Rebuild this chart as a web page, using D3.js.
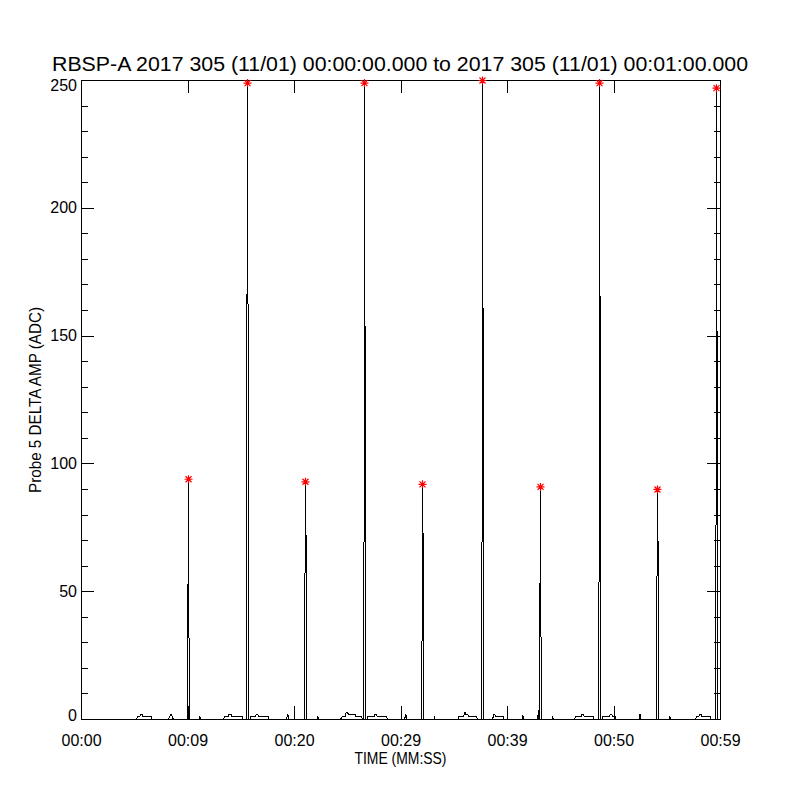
<!DOCTYPE html>
<html><head><meta charset="utf-8">
<script src="https://cdn.jsdelivr.net/npm/d3@7"></script>
<style>body{margin:0;background:#fff}</style>
</head><body>
<svg id="chart" width="800" height="800"></svg>
<script>
const titleText = "RBSP-A 2017 305 (11/01) 00:00:00.000 to 2017 305 (11/01) 00:01:00.000";
const xTitleText = "TIME (MM:SS)";
const yTitleText = "Probe 5 DELTA AMP (ADC)";
const xTickValues = [0, 10, 20, 30, 40, 50, 60];
const xTickLabels = ["00:00", "00:09", "00:20", "00:29", "00:39", "00:50", "00:59"];
const yTickValues = [0, 50, 100, 150, 200, 250];

// peak markers (seconds, ADC)
const peakTimes  = [10.05, 15.59, 21.03, 26.57, 32.02, 37.65, 43.10, 48.64, 54.08, 59.62];
const peakValues = [94, 249, 93, 249, 92, 250, 91, 249, 90, 247];

// time series [seconds, ADC]
const probeSeries = [
  [0,0],
  [5.16,0],[5.30,1.3],[5.49,1.3],[5.52,2],[5.70,2],[5.73,1.3],[6.58,1.3],[6.62,0],
  [8.17,0],[8.27,1],[8.40,2.2],[8.53,1],[8.64,0],
  [9.95,0],[10.00,52],[10.05,94],[10.10,24],[10.15,0],
  [11.06,0],[11.11,1.3],[11.16,0],
  [13.33,0],[13.45,1.3],[13.80,1.3],[13.85,2],[14.05,2],[14.10,1.3],[15.08,1.3],[15.12,0],
  [15.49,0],[15.54,164],[15.59,249],[15.64,152],[15.69,0],
  [15.87,0],[15.92,1.3],[16.35,1.3],[16.40,2],[16.55,2],[16.60,1.3],[17.55,1.3],[17.59,0],
  [19.25,0],[19.30,1],[19.36,2.2],[19.42,1],[19.47,0],
  [20.93,0],[20.98,50],[21.03,93],[21.08,72],[21.13,0],
  [22.14,0],[22.19,1.3],[22.24,0],
  [24.32,0],[24.50,1.3],[24.80,1.3],[24.85,2.9],[25.00,2.9],[25.05,1.8],[25.70,1.8],[25.75,1.3],[26.30,1.3],[26.36,0],
  [26.47,0],[26.52,37],[26.57,249],[26.62,154],[26.67,0],
  [26.83,0],[26.88,1.3],[27.50,1.3],[27.55,2],[27.70,2],[27.75,1.3],[28.66,1.3],[28.70,0],
  [30.33,0],[30.39,1],[30.45,2.2],[30.52,1],[30.58,0],
  [31.92,0],[31.97,25],[32.02,92],[32.07,72],[32.12,0],
  [33.10,0],[33.15,1.3],[33.20,0],
  [35.33,0],[35.45,1.3],[35.90,1.3],[35.95,2.9],[36.05,2.9],[36.10,1.8],[36.30,1.8],[36.35,1.3],[37.12,1.3],[37.16,0],
  [37.55,0],[37.60,37],[37.65,250],[37.70,161],[37.75,0],
  [38.62,0],[38.67,2],[38.80,2],[38.85,1.3],[39.61,1.3],[39.65,0],
  [41.38,0],[41.45,1.6],[41.53,0],
  [42.85,0],[42.88,3.8],[42.92,0],
  [43.00,0],[43.05,50],[43.10,91],[43.15,27],[43.20,0],
  [44.20,0],[44.25,1.3],[44.30,0],
  [46.29,0],[46.40,1.3],[46.95,1.3],[47.00,2],[47.15,2],[47.20,1.3],[48.06,1.3],[48.10,0],
  [48.54,0],[48.59,37],[48.64,249],[48.69,158],[48.74,0],
  [48.89,0],[48.93,1.3],[49.60,1.3],[49.65,2],[49.80,2],[49.85,1.3],[50.10,1.3],[50.14,0],
  [52.33,0],[52.39,1],[52.44,2.2],[52.50,1],[52.55,0],
  [53.98,0],[54.03,48],[54.08,90],[54.13,72],[54.18,0],
  [55.19,0],[55.24,1.3],[55.29,0],
  [57.65,0],[57.75,1.3],[57.98,1.3],[58.03,2],[58.18,2],[58.23,1.3],[59.02,1.3],[59.06,0],
  [59.52,0],[59.57,33],[59.62,247],[59.67,157],[59.72,0],
  [60,0]
];

const svg = d3.select("#chart");
const FONT = "'Liberation Sans', Arial, sans-serif";
const plotLeft = 81, plotRight = 720, plotTop = 80, plotBottom = 719;

const x = d3.scaleLinear().domain([0, 60]).range([plotLeft, plotRight]);
const y = d3.scaleLinear().domain([0, 250]).range([plotBottom, plotTop]);

svg.append("rect").attr("width", 800).attr("height", 800).attr("fill", "#fff");

// data line
svg.append("path")
  .datum(probeSeries)
  .attr("transform", "translate(0.5,0.5)")
  .attr("fill", "none")
  .attr("stroke", "#000")
  .attr("stroke-width", 1)
  .attr("shape-rendering", "crispEdges")
  .attr("d", d3.line().x(d => x(d[0])).y(d => y(d[1])));

// axes helper
function styleAxis(g) {
  g.select(".domain").remove();
  g.selectAll("line").attr("stroke", "#000").attr("shape-rendering", "crispEdges");
  g.selectAll("text").attr("font-family", FONT).attr("font-size", 16).attr("fill", "#000");
}

const majorLen = 13, minorLen = 6.5;
const yMinor = y.ticks(25).filter(v => v % 50 !== 0);

const yAxisG = svg.append("g").attr("transform", `translate(${plotLeft},0)`)
  .call(d3.axisLeft(y).tickValues(yTickValues).tickSize(-majorLen).tickPadding(4))
  .call(styleAxis);
// end labels sit just inside the frame, as in the reference
yAxisG.selectAll(".tick text")
  .attr("transform", d => d === 250 ? "translate(0,5)" : d === 0 ? "translate(0,-4)" : null);

svg.append("g").attr("transform", `translate(${plotLeft},0)`)
  .call(d3.axisLeft(y).tickValues(yMinor).tickSize(-minorLen).tickFormat(""))
  .call(styleAxis);
svg.append("g").attr("transform", `translate(${plotRight},0)`)
  .call(d3.axisRight(y).tickValues(yTickValues).tickSize(-majorLen).tickFormat(""))
  .call(styleAxis);
svg.append("g").attr("transform", `translate(${plotRight},0)`)
  .call(d3.axisRight(y).tickValues(yMinor).tickSize(-minorLen).tickFormat(""))
  .call(styleAxis);

svg.append("g").attr("transform", `translate(0,${plotBottom})`)
  .call(d3.axisBottom(x).tickValues(xTickValues).tickSize(-majorLen).tickPadding(16)
    .tickFormat((d, i) => xTickLabels[i]))
  .call(styleAxis);
svg.append("g").attr("transform", `translate(0,${plotTop})`)
  .call(d3.axisTop(x).tickValues(xTickValues).tickSize(-majorLen).tickFormat(""))
  .call(styleAxis);

// frame
svg.append("rect")
  .attr("x", plotLeft + 0.5).attr("y", plotTop + 0.5)
  .attr("width", plotRight - plotLeft).attr("height", plotBottom - plotTop)
  .attr("fill", "none").attr("stroke", "#000").attr("shape-rendering", "crispEdges");

// peak asterisks
const peaks = peakTimes.map((t, i) => [t, peakValues[i]]);
svg.append("g").selectAll("path").data(peaks).join("path")
  .attr("transform", d => `translate(${x(d[0]) + 0.5},${y(d[1]) + 0.5})`)
  .attr("d", "M-4,0H4M0,-4V4M-3,-3L3,3M-3,3L3,-3")
  .attr("fill", "none").attr("stroke", "#ff0000").attr("stroke-width", 1.2);

// titles
svg.append("text")
  .attr("x", 400).attr("y", 71).attr("text-anchor", "middle")
  .attr("font-family", FONT).attr("font-size", 20)
  .attr("textLength", 696).attr("lengthAdjust", "spacingAndGlyphs")
  .text(titleText);

svg.append("text")
  .attr("x", 400.5).attr("y", 764).attr("text-anchor", "middle")
  .attr("font-family", FONT).attr("font-size", 16)
  .attr("textLength", 92).attr("lengthAdjust", "spacingAndGlyphs")
  .text(xTitleText);

svg.append("text")
  .attr("transform", `translate(41,400) rotate(-90)`)
  .attr("text-anchor", "middle")
  .attr("font-family", FONT).attr("font-size", 16)
  .attr("textLength", 186).attr("lengthAdjust", "spacingAndGlyphs")
  .text(yTitleText);
</script>
</body></html>
